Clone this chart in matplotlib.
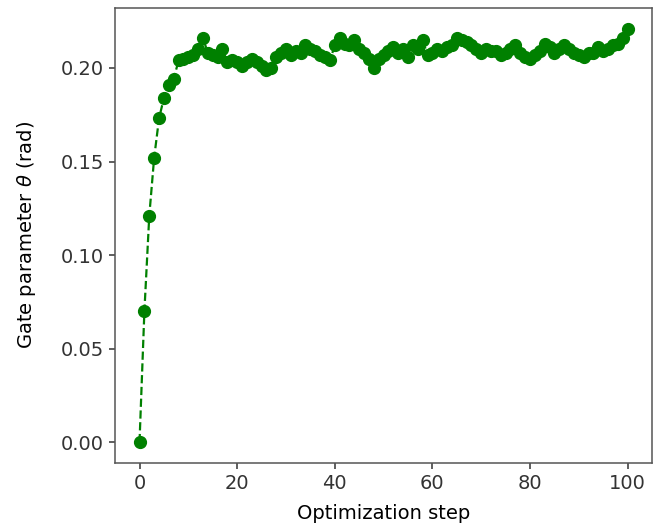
import matplotlib
matplotlib.use("Agg")
import matplotlib.pyplot as plt
import numpy as np

# theta trace over the optimisation run (steps 0..100)
theta = [
    0.000, 0.070, 0.121, 0.152, 0.173, 0.184, 0.191, 0.194, 0.204, 0.205,
    0.206, 0.207, 0.210, 0.216, 0.208, 0.207, 0.206, 0.210, 0.203, 0.204,
    0.203, 0.201, 0.203, 0.205, 0.203, 0.201, 0.199, 0.200, 0.206, 0.208,
    0.210, 0.207, 0.209, 0.208, 0.212, 0.210, 0.209, 0.207, 0.206, 0.204,
    0.212, 0.216, 0.213, 0.212, 0.215, 0.210, 0.208, 0.205, 0.200, 0.205,
    0.207, 0.209, 0.211, 0.208, 0.210, 0.206, 0.212, 0.210, 0.215, 0.207,
    0.208, 0.210, 0.209, 0.211, 0.212, 0.216, 0.215, 0.214, 0.212, 0.210,
    0.208, 0.210, 0.209, 0.209, 0.207, 0.208, 0.210, 0.212, 0.208, 0.206,
    0.205, 0.207, 0.209, 0.213, 0.211, 0.208, 0.210, 0.212, 0.210, 0.208,
    0.207, 0.206, 0.208, 0.208, 0.211, 0.209, 0.210, 0.212, 0.213, 0.216,
    0.221,
]
steps = np.arange(len(theta))

fig = plt.figure(figsize=(6.54, 5.32), dpi=100)
ax = fig.add_axes([0.176, 0.130, 0.821, 0.855])
ax.plot(steps, theta, "o--", color="green", markersize=8.5, linewidth=1.6)
ax.set_xlabel("Optimization step", fontsize=14, labelpad=8)
ax.set_ylabel(r"Gate parameter $\theta$ (rad)", fontsize=14, labelpad=16)
ax.set_yticks([0.0, 0.05, 0.10, 0.15, 0.20])
ax.tick_params(labelsize=14, length=4.5, width=1.1, colors="#333333")
for s in ax.spines.values():
    s.set_color("#555555")
    s.set_linewidth(1.1)
fig.savefig("out.png", dpi=100)
